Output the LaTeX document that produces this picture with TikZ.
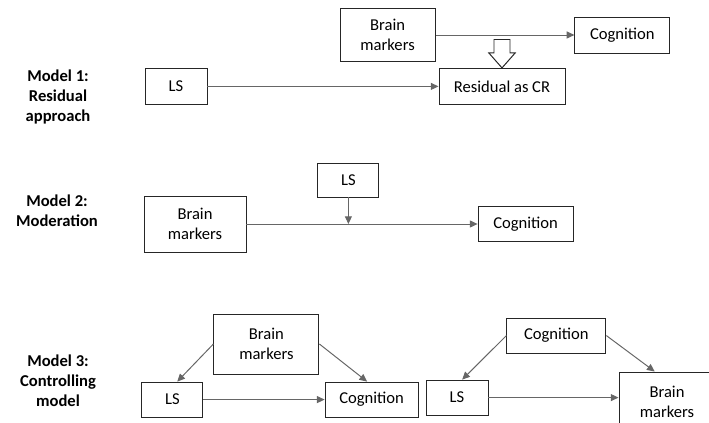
\documentclass[tikz,border=0pt]{standalone}
\usepackage{fontspec}
\setmainfont{Carlito}
\usepackage{tikz}
\usetikzlibrary{
    arrows.meta
}

\begin{document}
\begin{tikzpicture}[->,>={Triangle[length=5.5pt,width=5pt]},font=\fontsize{11.8}{14.2}\selectfont]
    \tikzstyle{box}=[shape=rectangle, draw=black!85, line width=0.7pt, align=center, inner sep=2pt]
    \tikzstyle{model}=[font=\fontsize{11.8}{14.2}\selectfont\bfseries, align=center]
    \tikzstyle{link}=[draw=black!60, line width=0.7pt]
    \useasboundingbox (0,0) rectangle (17.725,-10.575);
    % model 1
    \node[model] (lab1) at (1.45, -2.425) {Model 1:\\Residual\\approach};
    \node[box, minimum width=2.375cm, minimum height=1.325cm] (brainA) at (9.69, -0.875) {Brain\\markers};
    \node[box, minimum width=2.375cm, minimum height=0.9cm] (cogA) at (15.56, -0.875) {Cognition};
    \node[box, minimum width=1.55cm, minimum height=0.9cm] (lsA) at (4.4, -2.16) {LS};
    \node[box, minimum width=3.15cm, minimum height=0.9cm] (resA) at (12.55, -2.16) {Residual as CR};
    \path (brainA) edge[link] (cogA);
    \path (lsA) edge[link] (resA);
    \draw[-, fill=white, draw=black!85, line width=0.7pt] (resA.north) -- ++(-0.33, 0.375) -- ++(0.13, 0) -- ++(0, 0.335) -- ++(0.4, 0) -- ++(0, -0.335) -- ++(0.13, 0) -- cycle;
    % model 2
    \node[model] (lab2) at (1.425, -5.275) {Model 2:\\Moderation};
    \node[box, minimum width=1.525cm, minimum height=0.85cm] (lsB) at (8.71, -4.5) {LS};
    \node[box, minimum width=2.55cm, minimum height=1.4cm] (brainB) at (4.875, -5.6) {Brain\\markers};
    \node[box, minimum width=2.375cm, minimum height=0.875cm] (cogB) at (13.14, -5.6) {Cognition};
    \coordinate (joinB) at (lsB |- brainB);
    \path (brainB) edge[link] (cogB);
    \path (lsB) edge[link] (joinB);
    % model 3
    \node[model] (lab3) at (1.45, -9.525) {Model 3:\\Controlling\\model};
    \node[box, minimum width=2.625cm, minimum height=1.5cm] (brainC) at (6.66, -8.6) {Brain\\markers};
    \node[box, minimum width=1.525cm, minimum height=0.875cm] (lsC) at (4.31, -9.99) {LS};
    \node[box, minimum width=2.325cm, minimum height=0.875cm] (cogC) at (9.29, -9.99) {Cognition};
    \node[box, minimum width=2.475cm, minimum height=0.875cm] (cogD) at (13.91, -8.39) {Cognition};
    \node[box, minimum width=1.55cm, minimum height=0.875cm] (lsD) at (11.425, -9.94) {LS};
    \node[box, minimum width=2.4cm, minimum height=1.5cm] (brainD) at (16.675, -10.05) {Brain\\markers};
    \path (brainC.west) edge[link] (lsC.75);
    \path (brainC.east) edge[link] (cogC.104);
    \path (lsC) edge[link] (cogC);
    \path (cogD.west) edge[link] (lsD.74);
    \path (cogD.east) edge[link] (brainD.112);
    \path (lsD) edge[link] (lsD -| brainD.west);
\end{tikzpicture}
\end{document}
